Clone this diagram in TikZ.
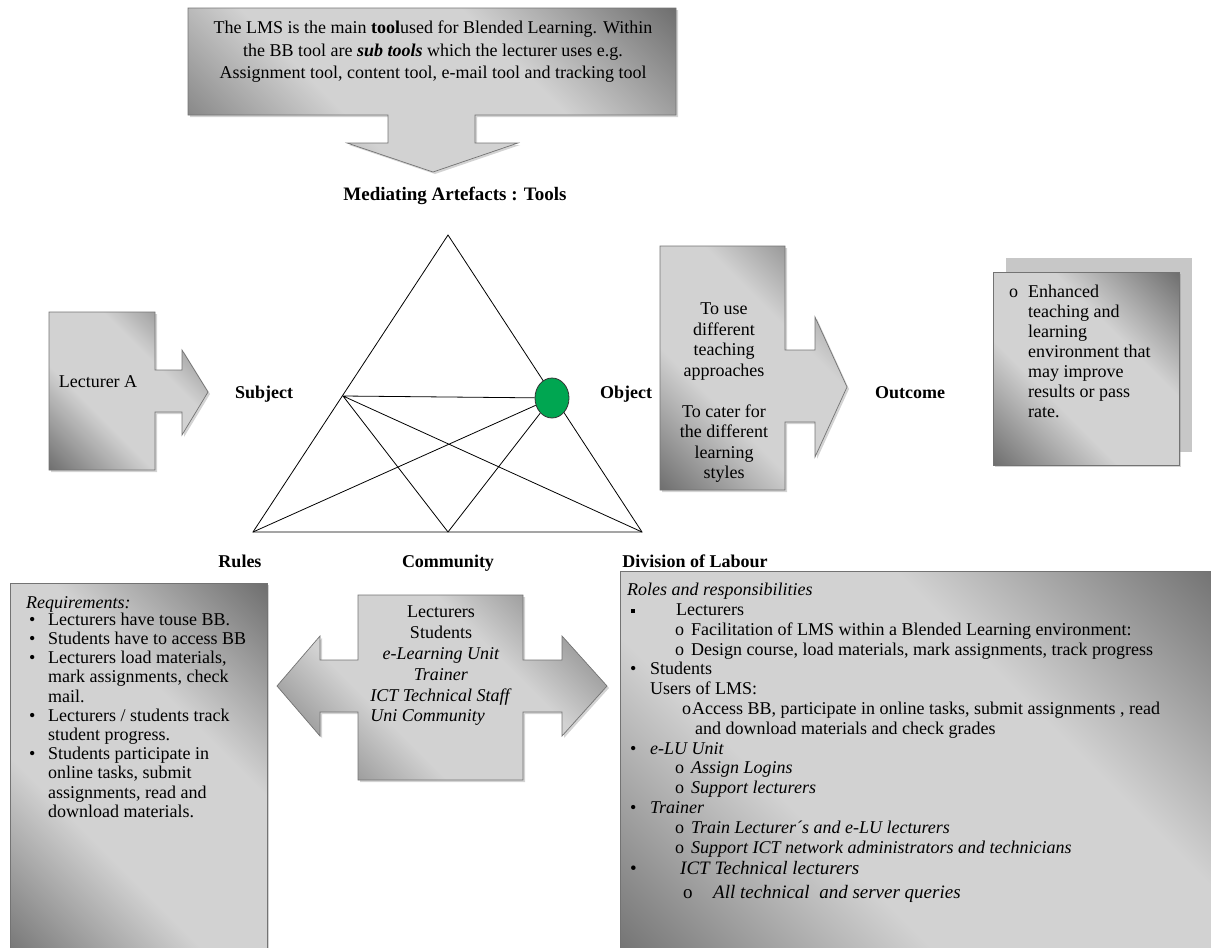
\documentclass[tikz,border=0pt]{standalone}
\usepackage{fontspec}
\setmainfont{Liberation Serif}
\usetikzlibrary{shadows, shapes.geometric}
\definecolor{shadedark}{RGB}{104,104,104}
\definecolor{shadelight}{RGB}{210,210,210}
\definecolor{objgreen}{RGB}{0,166,81}
\pgfdeclareverticalshading{boxshade}{100bp}{color(0bp)=(shadedark); color(13bp)=(shadedark); color(38bp)=(shadelight); color(62bp)=(shadelight); color(87bp)=(shadedark); color(100bp)=(shadedark)}
\newlength{\ictwidth}

\begin{document}
\begin{tikzpicture}[x = 1pt, y = -1pt,
		every node/.style = {inner sep = 0pt, font = \fontsize{18}{20}\selectfont},
		callout/.style = {draw = black!55, line width = 0.7pt, shade, shading = boxshade, shading angle = -45, drop shadow = {opacity = 0.35, shadow xshift = 2pt, shadow yshift = -2pt}},
		lbl/.style = {anchor = base, font = \fontsize{18}{20}\selectfont\bfseries},
		tri/.style = {line width = 0.8pt}]
	\useasboundingbox (0, 0) rectangle (1211, 948);
	\draw[callout] (188, 8) -- (676, 8) -- (676, 115) -- (475, 115) -- (475, 143) -- (518, 143) -- (433, 172) -- (347, 143) -- (388, 143) -- (388, 115) -- (188, 115) -- cycle;
		\node[anchor = north, align = center, font = \fontsize{18}{22.5}\selectfont] (tooltxt) at (433, 21) {The LMS is the main \textbf{tool}used for Blended Learning. Within\\the BB tool are \textbf{\textit{sub tools}} which the lecturer uses e.g.\\Assignment tool, content tool, e-mail tool and tracking tool};
	\node[lbl, font = \fontsize{19}{20}\selectfont\bfseries] (mediating) at (455, 200) {Mediating Artefacts : Tools};
	\draw[callout] (49, 312) -- (155, 312) -- (155, 370) -- (182, 370) -- (182, 350) -- (208, 392) -- (182, 435) -- (182, 412) -- (155, 412) -- (155, 470) -- (49, 470) -- cycle;
		\node[anchor = base] (lecturer) at (98, 387) {Lecturer A};
	\node[lbl] (subject) at (264, 398) {Subject};
	\node[lbl] (object) at (626, 398) {Object};
	\node[lbl] (outcome) at (910, 398) {Outcome};
	\draw[callout] (660, 246) -- (785, 246) -- (785, 350) -- (815, 350) -- (815, 317) -- (847, 387) -- (815, 457) -- (815, 422) -- (785, 422) -- (785, 490) -- (660, 490) -- cycle;
		\node[anchor = north, align = center, font = \fontsize{18}{20.5}\selectfont] (objtxt) at (724, 303) {To use\\different\\teaching\\approaches\\[20.5pt]To cater for\\the different\\learning\\styles};
	\fill[black!22] (1006, 258) rectangle (1192, 452);
	\draw[callout] (993, 272) rectangle (1179, 465);
		\node[anchor = north west, align = left] (outtxt) at (1009, 285) {\makebox[19pt][l]{o}Enhanced\\\hspace*{19pt}teaching and\\\hspace*{19pt}learning\\\hspace*{19pt}environment that\\\hspace*{19pt}may improve\\\hspace*{19pt}results or pass\\\hspace*{19pt}rate.};
	\coordinate (apex) at (448, 235);
	\coordinate (bl) at (253, 532);
	\coordinate (br) at (642, 532);
	\coordinate (bm) at (448, 532);
	\coordinate (subjpt) at (343, 396);
	\draw[tri] (apex) -- (bl) -- (br) -- cycle;
	\node[ellipse, draw = black!80, fill = objgreen, line width = 0.8pt, minimum width = 34pt, minimum height = 40pt] (objpt) at (552, 398) {};
	\draw[tri] (subjpt) -- (objpt) (subjpt) -- (bm) (subjpt) -- (br) (objpt) -- (bl) (objpt) -- (bm);
	\node[lbl] (rules) at (240, 567) {Rules};
	\node[lbl] (community) at (448, 567) {Community};
	\node[lbl] (division) at (695, 567) {Division of Labour};
	\draw[callout] (10, 583) rectangle (267, 970);
		\node[anchor = north west, align = left, font = \fontsize{18}{19.2}\selectfont] (reqtxt) at (26, 596) {\textit{Requirements:}\\[-2pt]\hspace*{3pt}\makebox[19pt][l]{\textbullet}Lecturers have touse BB.\\\hspace*{3pt}\makebox[19pt][l]{\textbullet}Students have to access BB\\\hspace*{3pt}\makebox[19pt][l]{\textbullet}Lecturers load materials,\\\hspace*{22pt}mark assignments, check\\\hspace*{22pt}mail.\\\hspace*{3pt}\makebox[19pt][l]{\textbullet}Lecturers / students track\\\hspace*{22pt}student progress.\\\hspace*{3pt}\makebox[19pt][l]{\textbullet}Students participate in\\\hspace*{22pt}online tasks, submit\\\hspace*{22pt}assignments, read and\\\hspace*{22pt}download materials.};
	\draw[callout] (358, 595) -- (523, 595) -- (523, 660) -- (562, 660) -- (562, 636) -- (607, 686) -- (562, 736) -- (562, 712) -- (523, 712) -- (523, 780) -- (358, 780) -- (358, 712) -- (320, 712) -- (320, 736) -- (277, 686) -- (320, 636) -- (320, 660) -- (358, 660) -- cycle;
		\node[anchor = north, align = center, font = \fontsize{18}{20.8}\selectfont] (commtxt) at (441, 606) {Lecturers\\Students\\\textit{e-Learning Unit}\\\textit{Trainer}\\\textit{ICT Technical Staff}\\\settowidth{\ictwidth}{\textit{ICT Technical Staff}}\makebox[\ictwidth][l]{\textit{Uni Community}}};
	\draw[callout] (620, 571) rectangle (1230, 970);
		\node[anchor = north west, align = left, font = \fontsize{18}{19.8}\selectfont] (roletxt) at (627, 583) {\textit{Roles and responsibilities}\\\hspace*{4pt}\makebox[45pt][l]{\rule[3pt]{4pt}{4pt}}Lecturers\\\hspace*{48pt}\makebox[16pt][l]{o}Facilitation of LMS within a Blended Learning environment:\\\hspace*{48pt}\makebox[16pt][l]{o}Design course, load materials, mark assignments, track progress\\\hspace*{3pt}\makebox[20pt][l]{\textbullet}Students\\\hspace*{23pt}Users of LMS:\\\hspace*{55pt}\makebox[10pt][l]{o}Access BB, participate in online tasks, submit assignments , read\\\hspace*{68pt}and download materials and check grades\\\hspace*{3pt}\makebox[20pt][l]{\textbullet}\textit{e-LU Unit}\\\hspace*{48pt}\makebox[16pt][l]{o}\textit{Assign Logins}\\\hspace*{48pt}\makebox[16pt][l]{o}\textit{Support lecturers}\\\hspace*{3pt}\makebox[20pt][l]{\textbullet}\textit{Trainer}\\\hspace*{48pt}\makebox[16pt][l]{o}\textit{Train Lecturer´s and e-LU lecturers}\\\hspace*{48pt}\makebox[16pt][l]{o}\textit{Support ICT network administrators and technicians}\\[2pt]{\fontsize{19}{20}\selectfont\hspace*{3pt}\makebox[50pt][l]{\textbullet}\textit{ICT Technical lecturers}}\\[4pt]{\fontsize{19}{20}\selectfont\hspace*{56pt}\makebox[30pt][l]{o}\textit{All technical\ \ and server queries}}};
\end{tikzpicture}
\end{document}
